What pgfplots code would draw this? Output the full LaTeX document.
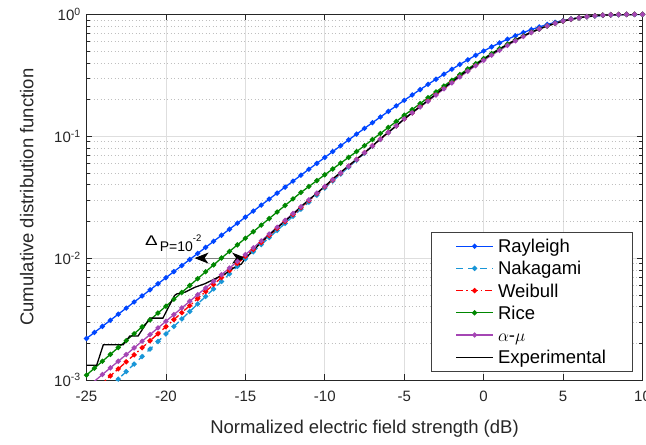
\documentclass[border=0pt]{standalone}
\usepackage{fontspec}
\setmainfont{Liberation Sans}
\usepackage{pgfplots}
\usepackage{pgfplotstable}
\pgfplotsset{compat=1.18}
\usetikzlibrary{arrows.meta}

\definecolor{cRay}{RGB}{0,70,255}
\definecolor{cNak}{RGB}{25,150,215}
\definecolor{cWei}{RGB}{255,0,0}
\definecolor{cRic}{RGB}{0,135,0}
\definecolor{cAmu}{RGB}{165,70,180}

% model CDFs, 0.5 dB steps
\pgfplotstableread{
x     ray      nak       wei       ric       amu
-25   0.002190 5.761e-4  7.253e-4  1.0978e-3 8.620e-4
-24.5 0.002456 6.641e-4  8.284e-4  1.2504e-3 9.775e-4
-24   0.002755 7.656e-4  9.463e-4  1.4244e-3 1.1089e-3
-23.5 0.003091 8.824e-4  1.0806e-3 1.6224e-3 1.2575e-3
-23   0.003468 1.0170e-3 1.2341e-3 1.8478e-3 1.4261e-3
-22.5 0.003890 1.1725e-3 1.4096e-3 2.1047e-3 1.6174e-3
-22   0.004363 1.3513e-3 1.6097e-3 2.3968e-3 1.8343e-3
-21.5 0.004895 1.5574e-3 1.8383e-3 2.7302e-3 2.0799e-3
-21   0.005491 1.7952e-3 2.0994e-3 3.1096e-3 2.3589e-3
-20.5 0.006158 2.0692e-3 2.3977e-3 3.5417e-3 2.6751e-3
-20   0.006907 2.3847e-3 2.7379e-3 4.0329e-3 3.0333e-3
-19.5 0.007747 2.7484e-3 3.1267e-3 4.5941e-3 3.4397e-3
-19   0.008688 3.1678e-3 3.5706e-3 5.2316e-3 3.9005e-3
-18.5 0.009742 3.6507e-3 4.0772e-3 5.9576e-3 4.4225e-3
-18   0.010925 4.2070e-3 4.6558e-3 6.7844e-3 5.0152e-3
-17.5 0.012249 4.8478e-3 5.3156e-3 7.7262e-3 5.6856e-3
-17   0.013735 5.5867e-3 6.0699e-3 8.7983e-3 6.4475e-3
-16.5 0.015397 6.4374e-3 6.9294e-3 0.010016  7.3078e-3
-16   0.017259 7.4181e-3 7.9118e-3 0.011344  8.2868e-3
-15.5 0.019345 8.5450e-3 9.0309e-3 0.012845  9.3912e-3
-15   0.021680 9.850e-3  0.010314  0.014552  0.010676
-14.5 0.024292 0.011268  0.011772  0.016476  0.012155
-14   0.027216 0.012890  0.013436  0.018653  0.013840
-13.5 0.030486 0.014739  0.015328  0.021110  0.015751
-13   0.034141 0.016858  0.017491  0.023894  0.017927
-12.5 0.038226 0.019276  0.019952  0.027039  0.020399
-12   0.042790 0.022038  0.022759  0.030595  0.023214
-11.5 0.047884 0.025183  0.025948  0.034602  0.026400
-11   0.053567 0.028780  0.029588  0.038675  0.030026
-10.5 0.059904 0.032878  0.033721  0.043210  0.034136
-10   0.066963 0.037549  0.038425  0.048262  0.038805
-9.5  0.074819 0.042868  0.043765  0.053879  0.044089
-9    0.083556 0.048925  0.049837  0.060153  0.050076
-8.5  0.093259 0.055807  0.056714  0.067093  0.056856
-8    0.10403  0.063637  0.064521  0.074806  0.064521
-7.5  0.11596  0.072508  0.073344  0.083693  0.073344
-7    0.12916  0.082571  0.083338  0.093905  0.083338
-6.5  0.14373  0.093969  0.094622  0.105295  0.094622
-6    0.15979  0.106847  0.107341  0.117936  0.107341
-5.5  0.17745  0.121345  0.121625  0.131988  0.121625
-5    0.19685  0.138698  0.138698  0.148615  0.138698
-4.5  0.21806  0.155657  0.155657  0.165370  0.155657
-4    0.24116  0.175755  0.175755  0.185105  0.173751
-3.5  0.26628  0.198098  0.198098  0.206854  0.193581
-3    0.29348  0.222896  0.222896  0.230720  0.217814
-2.5  0.32280  0.250255  0.250255  0.258038  0.244549
-2    0.35425  0.280377  0.280377  0.288031  0.273984
-1.5  0.38780  0.313249  0.313249  0.320548  0.306107
-1    0.42338  0.349030  0.349030  0.355766  0.341072
-0.5  0.46085  0.387572  0.387572  0.393579  0.378735
0     0.50000  0.428791  0.428791  0.433765  0.419015
0.5   0.54053  0.472493  0.472493  0.476604  0.461720
1     0.58212  0.518386  0.518386  0.521393  0.506567
1.5   0.62432  0.565875  0.565875  0.567516  0.555519
2     0.66663  0.614503  0.614503  0.614503  0.606084
2.5   0.70846  0.663405  0.663405  0.663405  0.657302
3     0.74918  0.711556  0.711556  0.711556  0.708283
3.5   0.78809  0.758450  0.758450  0.758450  0.758450
4     0.82465  0.802610  0.802610  0.802610  0.802610
4.5   0.85820  0.843285  0.843285  0.843285  0.843285
5     0.88829  0.879590  0.879590  0.879590  0.879590
5.5   0.91447  0.910880  0.910880  0.910880  0.910880
6     0.93666  0.936825  0.936825  0.936825  0.936825
6.5   0.95476  0.957362  0.957362  0.957362  0.957362
7     0.96899  0.972779  0.972779  0.972779  0.972779
7.5   0.97970  0.983700  0.983700  0.983700  0.983700
8     0.98739  0.990912  0.990912  0.990912  0.990912
8.5   0.99260  0.995347  0.995347  0.995347  0.995347
9     0.99593  0.997831  0.997831  0.997831  0.997831
9.5   0.99792  0.999094  0.999094  0.999094  0.999094
10    0.99902  0.999665  0.999665  0.999665  0.999665
}\curves

% measured CDF
\pgfplotstableread{
x      F
-25    1.32e-3
-24.36 1.32e-3
-23.94 1.95e-3
-22.69 1.95e-3
-22.27 2.30e-3
-21.75 2.30e-3
-21.02 3.22e-3
-20.19 3.22e-3
-19.46 4.93e-3
-19.31 5.09e-3
-18.79 5.26e-3
-18.17 5.77e-3
-17.54 6.17e-3
-16.92 6.76e-3
-16.29 7.41e-3
-15.67 8.41e-3
-15.25 8.95e-3
-14.94 1.02e-2
-14.62 1.11e-2
-14    1.35e-2
-13.5  0.01545
-13    0.01775
-12.5  0.02010
-12    0.02290
-11.5  0.02640
-11    0.03010
-10.5  0.03400
-10    0.03870
-9.5   0.04460
-9     0.05060
-8.5   0.05720
-8     0.06480
-7.5   0.07290
-7     0.08310
-6.5   0.09520
-6     0.10780
-5.5   0.12150
-5     0.13820
-4.5   0.15600
-4     0.17500
-3.5   0.19700
-3     0.22200
-2.5   0.24900
-2     0.27900
-1.5   0.31200
-1     0.34800
-0.5   0.38700
0      0.42800
0.5    0.47200
1      0.51800
1.5    0.56600
2      0.61500
2.5    0.66400
3      0.71200
3.5    0.75900
4      0.80300
4.5    0.84300
5      0.87950
5.5    0.91080
6      0.93680
6.5    0.95730
7      0.97270
7.5    0.98370
8      0.99090
8.5    0.99530
9      0.99780
9.5    0.99910
10     0.99970
}\measured

\begin{document}
\begin{tikzpicture}
\begin{axis}[
  scale only axis,
  width=556pt, height=365.7pt,
  xmin=-25, xmax=10, ymin=1e-3, ymax=1,
  ymode=log,
  xtick={-25,-20,-15,-10,-5,0,5,10},
  xticklabels={-25,-20,-15,-10,-5,0,5,10},
  ytick={0.001,0.01,0.1,1},
  yticklabels={10\textsuperscript{-3},10\textsuperscript{-2},10\textsuperscript{-1},10\textsuperscript{0}},
  minor ytick={0.002,0.003,0.004,0.005,0.006,0.007,0.008,0.009,
               0.02,0.03,0.04,0.05,0.06,0.07,0.08,0.09,
               0.2,0.3,0.4,0.5,0.6,0.7,0.8,0.9},
  tick align=inside,
  major tick length=5.7pt,
  minor tick length=3.3pt,
  tick style={black!85, line width=0.6pt},
  axis line style={black!85, line width=0.8pt},
  grid=both,
  major grid style={black!13, line width=0.6pt},
  minor grid style={black!25, line width=0.6pt, dash pattern=on 1pt off 2.5pt},
  ticklabel style={font=\fontsize{15}{15}\selectfont, text=black!85},
  xticklabel style={yshift=-7.5pt},
  yticklabel style={xshift=-2.2pt},
  legend cell align=left,
  legend style={at={(0.9817,0.4039)}, anchor=north east,
    draw=black!75, line width=0.6pt, fill=white,
    inner xsep=24pt, inner ysep=2.5pt, row sep=0pt,
    font=\fontsize{18.5}{18.5}\selectfont,
    nodes={inner xsep=2pt, inner ysep=0pt, text height=17.5pt, text depth=4.7pt},
    /tikz/every odd column/.append style={column sep=2.3pt}},
  legend image code/.code={%
    \draw[mark repeat=2, mark phase=2, #1]
      plot coordinates {(0pt,0pt) (18.5pt,0pt) (37pt,0pt)};},
  every axis plot/.append style={line width=1.3pt, mark size=1.9pt},
]
\addplot[cRay, mark=*] table[x=x, y=ray] {\curves};
\addlegendentry{Rayleigh}
\addplot[cNak, dash pattern=on 7pt off 5pt, mark=*, mark options={solid}] table[x=x, y=nak] {\curves};
\addlegendentry{Nakagami}
\addplot[cWei, dash pattern=on 7pt off 3pt on 1.5pt off 3pt, mark=*, mark options={solid}] table[x=x, y=wei] {\curves};
\addlegendentry{Weibull}
\addplot[cRic, mark=*] table[x=x, y=ric] {\curves};
\addlegendentry{Rice}
\addplot[cAmu, mark=*] table[x=x, y=amu] {\curves};
\addlegendentry{$\alpha$-$\mu$}
\addplot[black, line width=1.3pt] table[x=x, y=F] {\measured};
\addlegendentry{Experimental}

\draw[black!50, line width=1pt,
  {Stealth[length=14pt, width=11pt, inset=4pt, color=black]}-{Stealth[length=14pt, width=11pt, inset=4pt, color=black]}]
  (axis cs:-18.2,0.01) -- (axis cs:-14.95,0.01);
\node[anchor=base west, inner sep=0pt, font=\fontsize{14}{14}\selectfont, text=black]
  at (axis cs:-21.32,0.0128)
  {\scalebox{1.35}[1]{Δ}\hspace{2pt}\raisebox{-6.7pt}{P=10\raisebox{10pt}{\fontsize{9.5}{9.5}\selectfont -2}}};

\coordinate (SW) at (rel axis cs:0,0);
\coordinate (NE) at (rel axis cs:1,1);
\coordinate (XL) at (rel axis cs:0.5,0);
\coordinate (YL) at (rel axis cs:0,0.5);
\end{axis}
\node[anchor=base, font=\fontsize{18.5}{18.5}\selectfont, text=black!85]
  at ([yshift=-53.3pt]XL) {Normalized electric field strength (dB)};
\node[rotate=90, anchor=base, font=\fontsize{18.5}{18.5}\selectfont, text=black!85]
  at ([xshift=-53.2pt]YL) {Cumulative distribution function};
\pgfresetboundingbox
\path[use as bounding box] ([shift={(-86.5pt,-64pt)}]SW) rectangle ([shift={(3.5pt,14.3pt)}]NE);
\end{tikzpicture}
\end{document}
